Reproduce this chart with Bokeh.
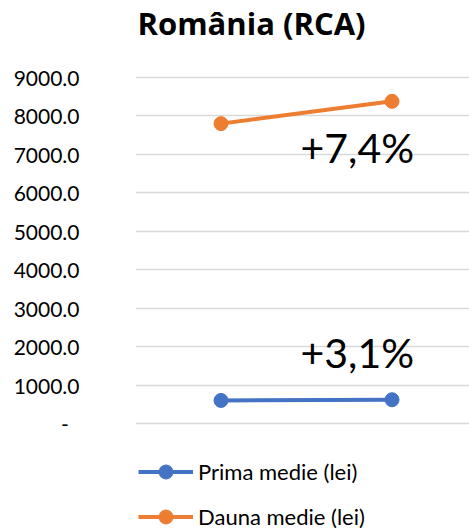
from bokeh.plotting import figure
from bokeh.models import (Range1d, Legend, LegendItem, CustomJSTickFormatter,
                          Label, ColumnDataSource, FixedTicker)
from bokeh.embed import file_html
from bokeh.resources import INLINE

# ---- data ----
periods = ["Perioada 1", "Perioada 2"]
prima_medie = [600.0, 618.0]
dauna_medie = [7800.0, 8380.0]
change_prima = "+3,1%"
change_dauna = "+7,4%"
y_ticks = [0, 1000, 2000, 3000, 4000, 5000, 6000, 7000, 8000, 9000]
series_names = ["Prima medie (lei)", "Dauna medie (lei)"]
title_text = "România (RCA)"

BLUE = "#4472C4"
ORANGE = "#ED7D31"
FONT = "Lato"

xs = [i + 0.5 for i in range(len(periods))]

# the frame fills the figure vertically: room above 9000 holds the title,
# room below 0 holds the legend
p = figure(width=469, height=531, output_backend="svg", toolbar_location=None,
           x_range=Range1d(0, 1.953), y_range=Range1d(-2809, 11003),
           min_border_left=135, min_border_right=0, min_border_top=0,
           min_border_bottom=0)
p.outline_line_color = None
p.background_fill_color = "white"
p.border_fill_color = "white"

p.xaxis.visible = False
p.xgrid.visible = False
p.ygrid.grid_line_color = "#D9D9D9"
p.ygrid.grid_line_width = 1.5

ya = p.yaxis[0]
ya.ticker = FixedTicker(ticks=y_ticks)
ya.formatter = CustomJSTickFormatter(code="return tick == 0 ? '-\\u00a0\\u00a0' : tick.toFixed(1);")
ya.axis_line_color = None
ya.major_tick_line_color = None
ya.minor_tick_line_color = None
ya.major_label_text_font = FONT
ya.major_label_text_font_size = "21px"
ya.major_label_text_color = "#000000"
ya.major_label_standoff = 50

src = ColumnDataSource(dict(x=xs, prima=prima_medie, dauna=dauna_medie))

l1 = p.line("x", "prima", source=src, line_color=BLUE, line_width=4)
c1 = p.scatter("x", "prima", source=src, size=14, fill_color=BLUE, line_color=BLUE)
l2 = p.line("x", "dauna", source=src, line_color=ORANGE, line_width=4)
c2 = p.scatter("x", "dauna", source=src, size=14, fill_color=ORANGE, line_color=ORANGE)

# chart title above the top gridline
p.add_layout(Label(x=0, y=y_ticks[-1], text=title_text, text_align="left",
                   text_baseline="alphabetic", x_offset=2, y_offset=55,
                   text_font="Open Sans", text_font_style="bold",
                   text_font_size="31px", text_color="black"))

p.add_layout(Label(x=xs[-1], y=dauna_medie[-1], text=change_dauna, text_align="right",
                   text_baseline="alphabetic", x_offset=22, y_offset=-46,
                   text_font=FONT, text_font_size="41px", text_color="black"))
p.add_layout(Label(x=xs[-1], y=prima_medie[-1], text=change_prima, text_align="right",
                   text_baseline="alphabetic", x_offset=22, y_offset=47,
                   text_font=FONT, text_font_size="41px", text_color="black"))

legend = Legend(items=[LegendItem(label=series_names[0], renderers=[l1, c1]),
                       LegendItem(label=series_names[1], renderers=[l2, c2])],
                orientation="vertical", location=(3, -3),
                glyph_width=55, glyph_height=35, label_height=35, spacing=10,
                label_standoff=5, padding=0, margin=0,
                border_line_color=None, background_fill_alpha=0,
                label_text_font=FONT, label_text_font_size="22px", label_text_color="black")
p.add_layout(legend, "center")

open("out.html", "w").write(file_html(p, INLINE))
